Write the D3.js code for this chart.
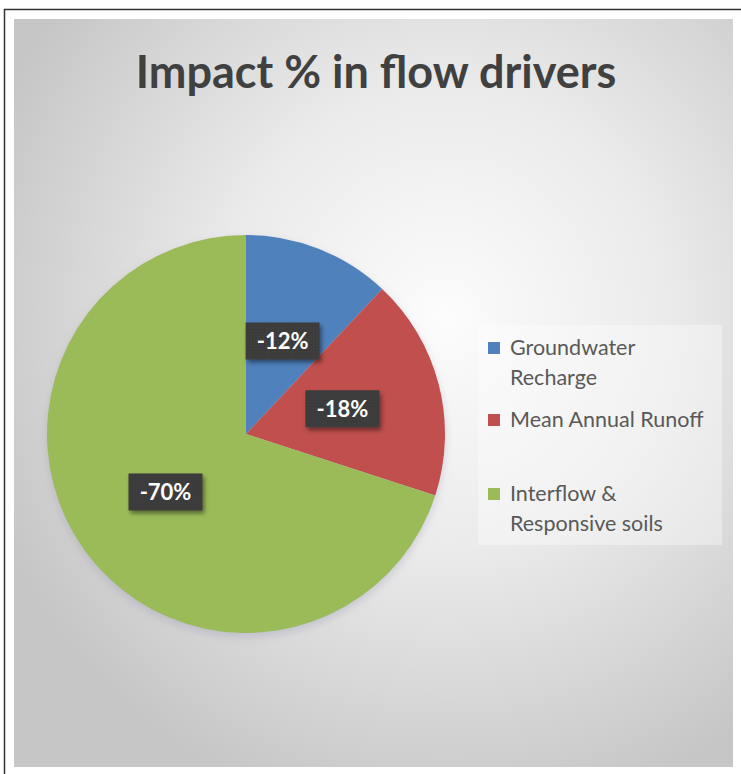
<!DOCTYPE html>
<html>
<head>
<meta charset="utf-8">
<script src="https://cdn.jsdelivr.net/npm/d3@7"></script>
<style>
  html, body { margin: 0; padding: 0; background: #ffffff; }
  svg { display: block; }
</style>
</head>
<body>
<svg id="chart" width="741" height="774"></svg>
<script>
// Share of impact per flow driver (percent, negative change)
const categories = ["Groundwater Recharge", "Mean Annual Runoff", "Interflow & Responsive soils"];
const values = [-12, -18, -70];
const legendLines = [["Groundwater", "Recharge"], ["Mean Annual Runoff"], ["Interflow &", "Responsive soils"]];
const colors = ["#4f81bd", "#c0504d", "#9bbb59"];
const title = "Impact % in flow drivers";

const svg = d3.select("#chart");
const defs = svg.append("defs");

// light spot on a gray plate
const bg = defs.append("radialGradient").attr("id", "plate")
  .attr("cx", "60%").attr("cy", "40%").attr("r", "68%");
bg.append("stop").attr("offset", "0%").attr("stop-color", "#fcfcfc");
bg.append("stop").attr("offset", "45%").attr("stop-color", "#ebebeb");
bg.append("stop").attr("offset", "100%").attr("stop-color", "#c6c6c6");

const shadow = defs.append("filter").attr("id", "shadow")
  .attr("x", "-30%").attr("y", "-30%").attr("width", "160%").attr("height", "170%");
shadow.append("feDropShadow").attr("dx", 2).attr("dy", 3).attr("stdDeviation", 2)
  .attr("flood-color", "#000").attr("flood-opacity", 0.45);

const pieShadow = defs.append("filter").attr("id", "pieShadow")
  .attr("x", "-10%").attr("y", "-10%").attr("width", "120%").attr("height", "125%");
pieShadow.append("feDropShadow").attr("dx", 0).attr("dy", 4).attr("stdDeviation", 4)
  .attr("flood-color", "#9090b0").attr("flood-opacity", 0.35);

// dotted texture for the label boxes
const dots = defs.append("pattern").attr("id", "dots")
  .attr("width", 3).attr("height", 3).attr("patternUnits", "userSpaceOnUse");
dots.append("rect").attr("width", 3).attr("height", 3).attr("fill", "#3a3a3a");
dots.append("rect").attr("x", 1).attr("y", 1).attr("width", 1).attr("height", 1).attr("fill", "#4a4a48");

// page frame
svg.append("line").attr("x1", 4.5).attr("y1", 9).attr("x2", 4.5).attr("y2", 774)
  .attr("stroke", "#333").attr("stroke-width", 1.5);
svg.append("line").attr("x1", 4).attr("y1", 9.5).attr("x2", 741).attr("y2", 9.5)
  .attr("stroke", "#333").attr("stroke-width", 1.5);

// chart area
svg.append("rect").attr("x", 14).attr("y", 19).attr("width", 719).attr("height", 748)
  .attr("fill", "url(#plate)");

// title
svg.append("text")
  .attr("x", 376).attr("y", 88)
  .attr("text-anchor", "middle")
  .attr("font-family", "Lato, 'Open Sans', sans-serif")
  .attr("font-weight", "bold")
  .attr("font-size", 45)
  .attr("fill", "#404040")
  .text(title);

// pie
const cx = 246, cy = 434, radius = 199;
const data = categories.map((c, i) => ({ name: c, value: values[i], color: colors[i] }));
const pie = d3.pie().sort(null).value(d => Math.abs(d.value));
const arc = d3.arc().innerRadius(0).outerRadius(radius);
const arcs = pie(data);

const g = svg.append("g").attr("transform", `translate(${cx},${cy})`);
g.append("g").attr("filter", "url(#pieShadow)")
  .selectAll("path").data(arcs).join("path")
  .attr("d", arc)
  .attr("fill", d => d.data.color);

// value labels on dark boxes at slice centroids
const labels = g.selectAll("g.lbl").data(arcs).join("g")
  .attr("class", "lbl")
  .attr("transform", d => `translate(${arc.centroid(d)})`);
labels.append("rect")
  .attr("x", -37).attr("y", -19).attr("width", 74).attr("height", 37)
  .attr("fill", "url(#dots)")
  .attr("filter", "url(#shadow)");
labels.append("text")
  .attr("text-anchor", "middle")
  .attr("dy", "0.35em")
  .attr("font-family", "Lato, 'Open Sans', sans-serif")
  .attr("font-weight", "bold")
  .attr("font-size", 22)
  .attr("fill", "#ffffff")
  .text(d => String(d.data.value) + "%");

// legend
const legend = svg.append("g");
legend.append("rect").attr("x", 478).attr("y", 325).attr("width", 244).attr("height", 220)
  .attr("fill", "#ffffff").attr("fill-opacity", 0.35);
const legendY = [355, 427, 501];
const items = legend.selectAll("g.item").data(data).join("g")
  .attr("class", "item")
  .attr("transform", (d, i) => `translate(488,${legendY[i]})`);
items.append("rect").attr("x", 0).attr("y", -13).attr("width", 12).attr("height", 12)
  .attr("fill", d => d.color);
items.append("text")
  .attr("x", 22).attr("y", 0)
  .attr("font-family", "Lato, 'Open Sans', sans-serif")
  .attr("font-size", 21.5)
  .attr("fill", "#595959")
  .selectAll("tspan").data((d, i) => legendLines[i]).join("tspan")
  .attr("x", 22).attr("dy", (t, j) => j === 0 ? 0 : 30)
  .text(t => t);
</script>
</body>
</html>
